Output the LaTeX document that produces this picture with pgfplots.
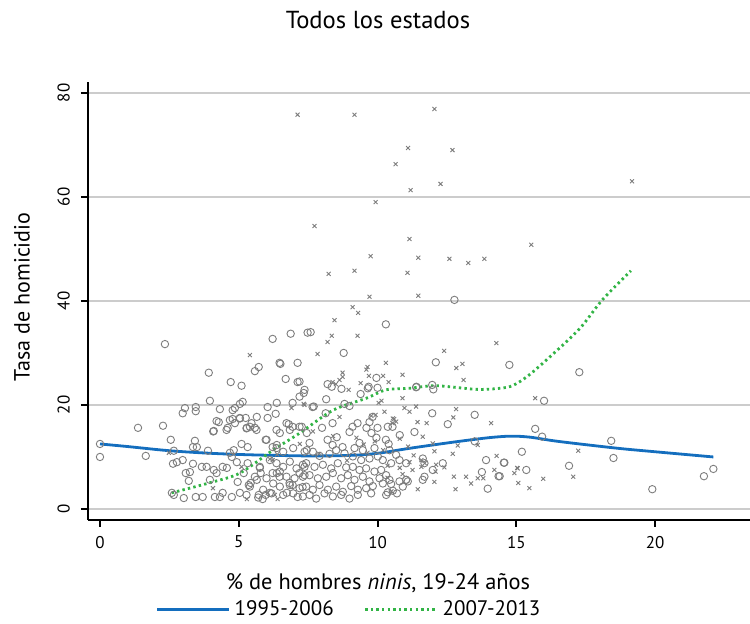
\documentclass[border=0pt]{standalone}
\usepackage{pgfplots}
\pgfplotsset{compat=1.18}
\usepackage{fontspec}
\setmainfont{PT Sans}
\definecolor{bl}{RGB}{20,110,190}
\definecolor{gr}{RGB}{50,180,70}
\definecolor{pt}{RGB}{125,125,125}
\begin{document}
\begin{tikzpicture}
\path[use as bounding box] (0,0) rectangle (375pt,312pt);
\begin{axis}[
  at={(44pt,52pt)}, anchor=south west,
  scale only axis, width=331pt, height=219pt,
  xmin=-0.432, xmax=23.42, ymin=-2.12, ymax=82.1,
  axis lines*=left,
  axis line style={line width=1pt, black},
  xtick={0,5,10,15,20}, ytick={0,20,40,60,80},
  tick style={line width=1pt, black},
  major tick length=3.5pt,
  tick align=outside,
  ymajorgrids, major grid style={line width=0.8pt, color=black!20},
  /pgf/number format/assume math mode=true,
  ticklabel style={font=\fontsize{8.5}{10}\selectfont},
  yticklabel style={rotate=90, anchor=south, yshift=2pt},
  xticklabel style={yshift=-1pt},
  clip=false,
  legend style={at={(axis description cs:0.396,-0.205)}, anchor=center, draw=none, fill=none,
    legend columns=2, font=\fontsize{10.5}{12}\selectfont, inner sep=0pt,
    /tikz/every even column/.append style={column sep=13pt}},
  legend cell align=left,
  legend image code/.code={\draw[#1] (0pt,0pt) -- (36pt,0pt);},
]
% 1995-2006 circles
\addplot[only marks, mark=o, mark size=1.85pt, color=pt, mark options={line width=0.45pt}, forget plot] table {
x y
0 12.5
0 10.0
1.37 15.6
1.65 10.2
2.27 16.0
2.34 31.7
2.55 13.3
2.66 11.2
2.63 8.7
2.77 9.0
2.59 3.1
2.66 2.7
2.98 9.4
2.98 18.4
3.06 19.4
3.09 6.9
3.24 7.1
3.2 5.4
3.02 2.1
3.45 19.6
3.45 18.8
3.42 13.1
3.35 11.9
3.49 11.9
3.35 8.7
3.45 2.3
3.7 2.3
3.67 8.1
3.84 8.1
3.89 11.2
3.92 26.2
3.96 20.8
3.96 5.6
4.1 15.0
4.2 16.9
4.28 16.7
4.32 19.2
4.1 7.5
4.2 6.9
4.14 2.3
4.42 8.1
4.42 3.1
4.32 2.3
4.6 15.6
4.71 24.4
4.78 19.0
4.86 19.4
4.78 17.3
4.57 7.9
4.75 2.3
4.68 10.8
4.75 10.0
4.82 11.3
4.93 9.0
5.1 23.7
5.04 20.2
5.14 20.6
5.04 17.5
5.1 12.5
4.96 5.2
5.04 3.1
5.18 6.9
5.25 17.5
5.29 15.6
5.4 15.8
5.32 11.9
5.32 8.8
5.36 4.6
5.43 5.0
5.58 26.5
5.72 27.3
5.58 15.6
5.65 17.7
5.76 7.9
5.79 6.9
5.65 5.6
5.72 2.7
5.97 2.7
5.86 1.9
5.97 13.3
6.04 19.6
6.04 17.5
6.22 32.7
6.33 18.3
6.47 28.1
6.37 20.4
6.22 11.9
6.37 12.3
6.22 6.9
6.37 6.9
6.12 3.1
6.47 6.2
6.69 25.0
6.87 33.7
6.94 20.4
7.12 28.1
7.12 24.4
7.48 33.9
6.8 16.3
6.94 15.8
6.83 5.0
6.94 4.6
6.73 3.1
7.12 2.3
7.3 4.2
7.19 6.9
7.37 8.1
7.45 11.3
7.27 15.8
6.5 27.9
7.59 34.0
8.78 30.0
10.3 35.5
12.77 40.2
9.96 25.2
8.2 24.0
12.1 28.2
14.75 27.7
17.27 26.3
16.0 20.8
15.68 15.4
15.93 13.9
18.42 13.1
15.2 11.0
18.5 9.8
14.55 8.9
16.9 8.3
15.36 7.5
14.4 6.3
19.9 3.8
21.76 6.3
22.1 7.7
8.35 23.5
8.7 23.1
7.34 22.3
9.39 22.1
9.68 23.5
10.0 23.3
11.4 23.5
7.66 19.6
8.13 18.4
8.81 20.2
8.99 19.8
8.38 16.5
8.0 15.6
7.45 14.6
7.55 12.7
8.2 13.3
8.38 12.3
8.53 13.8
8.99 14.8
9.1 15.8
9.28 16.5
9.6 15.6
9.71 16.7
9.78 14.6
9.96 13.7
10.3 13.3
10.4 12.5
9.35 12.7
11.33 14.8
10.54 15.8
10.0 15.6
10.8 14.2
9.82 17.7
8.74 11.9
7.37 11.0
7.67 11.0
7.91 10.2
8.27 10.6
8.51 11.3
8.81 10.7
9.11 10.1
9.41 9.4
9.71 9.7
10.01 10.1
10.19 9.4
10.49 8.8
10.79 9.4
11.03 8.8
7.43 8.8
7.73 8.1
8.03 8.5
8.33 7.8
8.57 8.8
8.87 8.0
9.11 8.1
9.35 7.5
9.59 7.8
9.89 7.2
10.13 7.5
10.31 6.5
7.31 6.2
7.55 6.5
7.85 5.9
8.15 6.2
8.39 6.9
8.69 5.9
8.93 6.5
9.17 5.6
9.47 6.2
9.71 5.3
10.07 5.9
10.43 5.6
10.79 5.3
11.03 5.6
7.43 4.3
7.67 3.7
7.91 4.6
8.21 3.7
8.51 4.3
8.75 3.3
9.05 4.4
9.29 3.7
9.59 4.0
9.83 4.4
10.19 4.9
10.49 4.8
10.91 4.3
7.55 2.7
7.79 2.0
8.09 3.0
8.39 2.4
8.69 2.7
8.99 2.0
9.29 2.7
9.77 3.0
10.31 2.7
10.43 11.3
10.67 10.4
9.47 11.3
9.89 11.7
9.17 11.7
6.12 9.4
6.36 8.8
6.6 8.1
6.84 9.1
7.08 7.8
7.31 8.5
6.48 7.2
6.72 6.2
7.01 5.9
7.37 6.5
6.0 5.9
6.24 4.9
6.48 4.3
6.84 4.6
7.19 4.0
5.88 3.7
6.18 3.0
6.6 2.7
6.96 3.0
7.31 2.4
5.76 8.1
5.58 6.2
5.4 4.3
5.28 2.7
5.7 2.2
6.36 11.7
6.6 11.0
6.96 11.7
6.48 14.6
6.72 16.5
6.84 15.2
7.19 15.8
6.36 15.2
6.0 13.3
5.64 15.2
5.28 15.5
5.46 16.5
4.86 16.5
4.56 15.2
4.08 14.9
4.68 17.1
5.04 17.4
11.97 23.85
12.01 23.0
11.97 18.4
12.53 16.3
13.5 18.1
13.5 13.0
13.91 9.4
14.57 8.9
11.63 9.7
11.69 8.8
12.35 8.8
11.99 7.5
11.69 6.2
13.76 7.1
14.36 6.3
13.97 3.9
11.63 5.6
7.19 24.5
7.37 22.9
7.19 21.6
7.7 19.7
8.15 21.1
9.65 23.2
11.39 23.4
10.37 15.8
11.03 5.6
11.09 5.3
10.37 3.2
10.55 3.5
10.7 3.0
};
% 2007-2013 crosses
\addplot[only marks, mark=x, mark size=1.4pt, color=pt, mark options={line width=0.45pt}, forget plot] table {
x y
7.12 75.8
9.17 75.8
12.05 76.9
11.1 69.4
12.7 69.0
10.65 66.3
12.27 62.5
11.19 61.3
9.93 59.0
7.73 54.4
11.15 51.9
15.54 50.8
9.75 48.6
11.47 48.3
12.59 48.1
13.27 47.3
13.85 48.1
8.24 45.2
9.17 45.8
11.08 45.4
9.71 40.8
11.47 41.0
9.1 38.8
9.3 37.7
8.45 36.3
19.17 63.0
8.35 33.3
8.2 32.1
9.28 33.3
7.84 29.8
9.64 27.3
9.6 26.8
10.3 28.1
10.9 25.8
10.2 25.6
10.4 24.4
8.74 26.2
8.74 25.4
8.5 24.0
14.28 31.9
12.4 30.4
12.84 27.1
13.06 27.9
13.1 24.8
5.4 29.6
15.68 21.3
17.23 11.2
15.03 7.9
14.93 6.9
17.05 6.2
15.97 5.8
15.07 5.0
15.47 4.0
2.48 10.8
4.07 4.0
5.29 1.9
6.4 1.9
6.22 9.4
6.9 19.4
7.34 20.2
6.04 3.1
5.1 8.1
8.38 24.4
8.63 24.8
8.96 22.9
10.04 20.4
10.14 20.8
10.9 21.3
7.37 20.0
9.93 18.1
10.25 18.7
10.97 19.4
11.15 18.7
11.44 16.7
10.6 17.3
10.54 16.5
9.78 17.9
8.63 17.7
9.24 13.7
9.64 10.8
10.36 8.3
10.8 7.9
11.15 9.0
11.58 9.4
11.7 8.8
11.26 7.5
11.58 8.1
10.36 6.0
6.12 9.6
6.38 10.5
6.3 2.7
12.83 19.2
11.77 16.5
14.09 16.5
11.63 13.9
11.99 12.6
12.05 11.1
12.89 12.2
13.61 12.3
12.71 10.6
14.29 10.2
12.11 8.5
12.41 8.0
12.09 7.2
14.21 7.5
15.05 7.8
12.75 6.2
13.19 6.2
13.61 5.9
13.81 5.9
12.05 5.2
13.37 4.9
12.81 3.8
9.39 24.2
9.69 25.6
7.67 14.9
11.39 19.7
12.73 17.6
10.55 17.4
10.67 16.8
11.45 3.8
8.9 9.3
9.5 12.4
10.2 11.3
10.8 13.5
11.1 12.0
9.9 13.0
8.4 14.0
7.9 10.6
7.2 12.5
10.5 3.4
11.3 10.3
10.9 6.7
};
\addplot[color=bl, line width=1.4pt, smooth] coordinates {
(0,12.5) (1,12.0) (2.5,11.2) (4,10.7) (5.5,10.4) (7.5,10.2) (9,10.3) (10,10.7) (11.2,11.7) (12.8,12.9) (14,13.7) (14.8,14.0) (15.5,13.8) (16.5,13.0) (18.6,11.7) (20,11.0) (22.1,10.0)
};
\addlegendentry{1995-2006}
\addplot[color=gr, line width=1.4pt, dash pattern=on 1.2pt off 1.6pt, smooth] coordinates {
(2.58,3.1) (4,5.1) (5.04,6.9) (6.23,11.3) (7.2,14.6) (8.4,19.0) (9.6,21.3) (10.3,22.9) (11.15,23.2) (12.1,23.7) (13.56,23.0) (14.4,23.2) (14.86,23.7) (15.4,25.5) (16.2,29.2) (17.27,34.6) (18.1,40.2) (19.13,45.8)
};
\addlegendentry{2007-2013}
\end{axis}
\node[font=\fontsize{12.3}{14}\selectfont] at (189pt,302pt) {Todos los estados};
\node[font=\fontsize{11.2}{13}\selectfont] at (189pt,20.5pt) {\% de hombres \emph{ninis}, 19-24 años};
\node[font=\fontsize{11}{13}\selectfont, rotate=90] at (11pt,163.5pt) {Tasa de homicidio};
\end{tikzpicture}
\end{document}
